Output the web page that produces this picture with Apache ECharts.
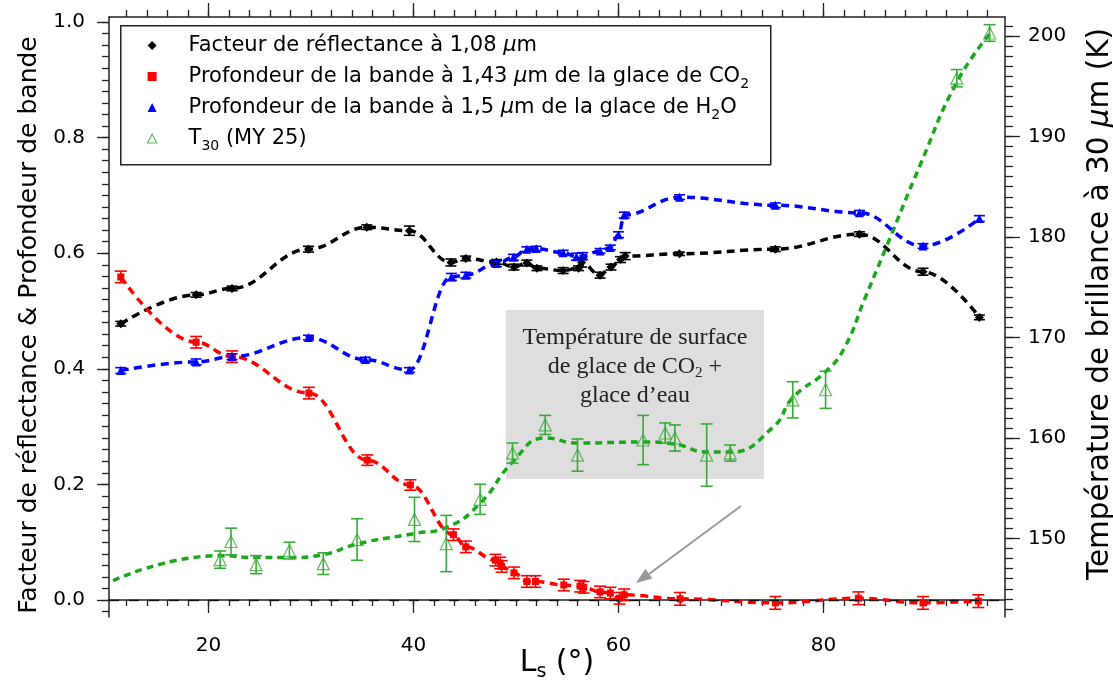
<!DOCTYPE html>
<html><head><meta charset="utf-8">
<script src="https://cdn.jsdelivr.net/npm/echarts@6.0.0/dist/echarts.min.js"></script>
<style>html,body{margin:0;padding:0;background:#fff}#c{width:1113px;height:686px}</style>
</head><body><div id="c"></div>
<script>
// ---------------- data ----------------
const LS_R = [11.45, 18.8, 22.3, 29.76, 35.45, 39.6, 43.65, 45.1, 48.1, 49.8, 51.06, 52.04, 54.6, 56.1, 56.4, 58.2, 59.26, 60.2, 60.65, 65.95, 75.3, 83.5, 89.7, 95.2];
const R108 = [0.478, 0.528, 0.539, 0.607, 0.645, 0.639, 0.584, 0.591, 0.585, 0.576, 0.583, 0.574, 0.570, 0.574, 0.584, 0.562, 0.576, 0.589, 0.595, 0.599, 0.607, 0.633, 0.568, 0.489];
const R108_ERR = [0.004, 0.004, 0.004, 0.005, 0.004, 0.008, 0.006, 0.004, 0.004, 0.005, 0.005, 0.004, 0.005, 0.004, 0.008, 0.005, 0.005, 0.005, 0.006, 0.003, 0.004, 0.004, 0.006, 0.004];

const LS_C = [11.45, 18.8, 22.3, 29.8, 35.5, 39.7, 43.9, 45.1, 48.0, 48.46, 48.6, 49.8, 51.06, 51.9, 54.66, 56.26, 56.6, 58.2, 59.2, 60.1, 60.55, 66.0, 75.3, 83.4, 89.7, 95.1];
const CO2 = [0.559, 0.446, 0.421, 0.358, 0.242, 0.199, 0.113, 0.092, 0.069, 0.064, 0.058, 0.047, 0.032, 0.032, 0.026, 0.024, 0.022, 0.014, 0.012, 0.003, 0.009, 0.002, -0.005, 0.003, -0.005, -0.002];
const CO2_ERR = [0.010, 0.010, 0.010, 0.010, 0.009, 0.009, 0.010, 0.010, 0.010, 0.010, 0.010, 0.010, 0.010, 0.010, 0.010, 0.010, 0.010, 0.010, 0.010, 0.010, 0.010, 0.011, 0.011, 0.011, 0.011, 0.011];

const LS_H = [11.45, 18.8, 22.3, 29.76, 35.3, 39.6, 43.7, 45.1, 48.1, 49.75, 51.06, 51.97, 54.6, 55.9, 56.5, 58.2, 59.2, 60.0, 60.56, 65.95, 75.3, 83.5, 89.7, 95.2];
const H2O = [0.397, 0.412, 0.421, 0.454, 0.416, 0.398, 0.559, 0.562, 0.582, 0.593, 0.607, 0.608, 0.601, 0.594, 0.595, 0.604, 0.610, 0.632, 0.666, 0.697, 0.683, 0.670, 0.6125, 0.660];
const H2O_ERR = [0.005, 0.005, 0.005, 0.004, 0.004, 0.004, 0.006, 0.005, 0.005, 0.005, 0.004, 0.004, 0.004, 0.006, 0.006, 0.004, 0.004, 0.005, 0.005, 0.004, 0.004, 0.004, 0.004, 0.005];

const LS_T = [21.14, 22.2, 24.65, 27.9, 31.2, 34.5, 40.1, 43.2, 46.5, 49.66, 52.85, 56.0, 62.4, 64.55, 65.5, 68.6, 70.9, 77.0, 80.2, 93.0, 96.2];
const T30 = [147.9, 149.7, 147.4, 148.8, 147.5, 149.9, 151.9, 149.5, 153.9, 158.5, 161.3, 158.3, 159.8, 160.5, 160.0, 158.3, 158.5, 163.8, 164.8, 195.8, 200.3];
const T30_ERR = [0.86, 1.33, 0.9, 0.83, 1.08, 2.07, 2.2, 2.8, 1.5, 1.0, 0.95, 1.6, 2.45, 1.0, 1.3, 3.1, 0.8, 1.8, 1.85, 0.86, 0.83];

const LS_FIT = [10.7, 21.14, 24.65, 27.9, 31.2, 34.5, 40.1, 43.2, 46.5, 49.66, 52.85, 56.0, 62.4, 65.5, 68.6, 70.9, 75.1, 77.0, 80.2, 82.0, 84.0, 86.2, 89.4, 93.0, 96.2];
const T30_FIT = [145.8, 148.3, 148.1, 148.1, 148.4, 149.45, 150.5, 151.1, 153.5, 157.6, 160.0, 159.5, 159.6, 159.4, 158.6, 158.6, 161.1, 164.0, 166.6, 168.9, 173.8, 179.2, 187.1, 195.4, 200.2];

// tick labels
const X_MAJOR = [20, 40, 60, 80];
const Y_MAJOR = [0, 0.2, 0.4, 0.6, 0.8, 1.0];
const T_MAJOR = [150, 160, 170, 180, 190, 200];
const X_MINOR = []; for (let v = 12; v <= 96; v += 2) X_MINOR.push(v);
const Y_MINOR = []; for (let i = -1; i <= 50; i++) Y_MINOR.push(+(i * 0.02).toFixed(2));
const T_MINOR = []; for (let v = 143; v <= 201; v++) T_MINOR.push(v);

const LEGEND_TEXT = {
  R: 'Facteur de réflectance à 1,08 {mu|μ}m',
  C: 'Profondeur de la bande à 1,43 {mu|μ}m de la glace de CO{sub|2}',
  H: 'Profondeur de la bande à 1,5 {mu|μ}m de la glace de H{sub|2}O',
  T: 'T{sub|30} (MY 25)'
};

// ---------------- helpers ----------------
const FONT = "'DejaVu Sans', sans-serif";
const SERIF = "'Liberation Serif', serif";
const zip = (xs, ys) => xs.map((x, i) => [x, ys[i]]);
const errData = (xs, ys, es) => xs.map((x, i) => [x, ys[i] - es[i], ys[i] + es[i]]);
function errRender(capW, color, lw) {
  return function (params, api) {
    const x = api.value(0), lo = api.value(1), hi = api.value(2);
    const p1 = api.coord([x, hi]), p2 = api.coord([x, lo]);
    const st = { stroke: color, lineWidth: lw };
    return { type: 'group', children: [
      { type: 'line', shape: { x1: p1[0], y1: p1[1], x2: p2[0], y2: p2[1] }, style: st },
      { type: 'line', shape: { x1: p1[0] - capW / 2, y1: p1[1], x2: p1[0] + capW / 2, y2: p1[1] }, style: st },
      { type: 'line', shape: { x1: p2[0] - capW / 2, y1: p2[1], x2: p2[0] + capW / 2, y2: p2[1] }, style: st }
    ]};
  };
}
const XMIN = 10.3, XMAX = 97.7, YMIN = -0.0294, YMAX = 1.0087, TMIN = 142.19, TMAX = 201.89;
const AX = '#222';
const mkX = (pos, vals, len, main) => ({
  type: 'value', position: pos, min: XMIN, max: XMAX, splitLine: { show: false },
  axisLine: { show: main, lineStyle: { color: AX, width: 1.5 } },
  axisTick: { show: true, customValues: vals, length: len, lineStyle: { color: AX, width: 1.3 } },
  axisLabel: { show: false }
});
const mkY = (pos, mn, mx, vals, len, main) => ({
  type: 'value', position: pos, min: mn, max: mx, splitLine: { show: false },
  axisLine: { show: main, lineStyle: { color: AX, width: 1.5 } },
  axisTick: { show: true, customValues: vals, length: len, lineStyle: { color: AX, width: 1.3 } },
  axisLabel: { show: false }
});

const xBottom = mkX('bottom', X_MAJOR, 13, true);
xBottom.axisLabel = { show: true, customValues: X_MAJOR, fontSize: 20, margin: 19, color: '#000', fontFamily: FONT };
xBottom.name = '{a|L}{s|s}{a| (°)}';
xBottom.nameLocation = 'middle';
xBottom.nameGap = 27;
xBottom.nameMoveOverlap = false;
xBottom.nameTextStyle = { rich: {
  a: { fontSize: 30, fontFamily: FONT, color: '#000', lineHeight: 38 },
  s: { fontSize: 19, fontFamily: FONT, color: '#000', lineHeight: 19, verticalAlign: 'bottom' } } };

const yLeft = mkY('left', YMIN, YMAX, Y_MAJOR, 12, true);
yLeft.axisLabel = { show: true, customValues: Y_MAJOR, fontSize: 20, margin: 24, color: '#000', fontFamily: FONT,
  formatter: v => v.toFixed(1) };
yLeft.name = 'Facteur de réflectance & Profondeur de bande';
yLeft.nameLocation = 'middle'; yLeft.nameRotate = 90; yLeft.nameGap = 67;
yLeft.nameTextStyle = { fontSize: 25, fontFamily: FONT, color: '#000', padding: [0, 16, 0, 0] };

const yRight = mkY('right', TMIN, TMAX, T_MAJOR, 15, true);
yRight.axisLabel = { show: true, customValues: T_MAJOR, fontSize: 20, margin: 23, color: '#000', fontFamily: FONT };
yRight.name = 'Température de brillance à 30 {mu|μ}m (K)';
yRight.nameLocation = 'middle'; yRight.nameRotate = 90; yRight.nameGap = 80;
yRight.nameTextStyle = { fontSize: 29.5, fontFamily: FONT, color: '#000', padding: [0, 0, 0, 26],
  rich: { mu: { fontSize: 29.5, fontFamily: FONT, fontStyle: 'italic', color: '#000' } } };

const lineSeries = (name, xs, ys, color, sym, size) => ({
  name, type: 'line', xAxisIndex: 0, yAxisIndex: 0, data: zip(xs, ys),
  smooth: 0.4, smoothMonotone: 'x', symbol: sym, symbolSize: size, showSymbol: true,
  itemStyle: { color }, lineStyle: { color, width: 3.5, type: [8, 5.5] }, z: 3
});
const errSeries = (xs, ys, es, color, yIdx, capW) => ({
  type: 'custom', xAxisIndex: 0, yAxisIndex: yIdx, data: errData(xs, ys, es),
  encode: { x: 0, y: [1, 2] }, renderItem: errRender(capW, color, 1.6), z: 4, silent: true
});

const GREEN_LINE = '#1aa81a', GREEN_PT = '#36ab36';
const option = {
  animation: false,
  backgroundColor: '#fff',
  grid: { left: 109, right: 108, top: 17, bottom: 69, containLabel: false, outerBoundsMode: 'none' },
  xAxis: [xBottom, mkX('bottom', X_MINOR, 6, false), mkX('top', X_MAJOR, 14, true), mkX('top', X_MINOR, 7, false)],
  yAxis: [yLeft, mkY('left', YMIN, YMAX, Y_MINOR, 7, false), yRight, mkY('right', TMIN, TMAX, T_MINOR, 8, false)],
  legend: {
    left: 147, top: 31, orient: 'vertical', padding: 0, itemGap: 2, itemWidth: 9, itemHeight: 9,
    selectedMode: false,
    data: [{ name: 'R', icon: 'diamond' }, { name: 'C', icon: 'rect' }, { name: 'H', icon: 'triangle' },
           { name: 'T', icon: 'triangle', itemStyle: { color: '#fff', borderColor: GREEN_PT, borderWidth: 1.2 } }],
    formatter: n => LEGEND_TEXT[n],
    textStyle: { fontSize: 21, fontFamily: FONT, color: '#000', lineHeight: 29, padding: [0, 0, 0, 27],
      rich: {
        mu: { fontSize: 21, fontFamily: FONT, fontStyle: 'italic', color: '#000', lineHeight: 29 },
        sub: { fontSize: 14, fontFamily: FONT, color: '#000', lineHeight: 14, verticalAlign: 'bottom' }
      } }
  },
  graphic: [
    { type: 'rect', left: 120, top: 25, shape: { width: 650, height: 139 }, style: { fill: '#fff', stroke: '#222', lineWidth: 1.5 }, z: 1 },
    { type: 'rect', left: 506, top: 310, shape: { width: 258, height: 169 }, style: { fill: '#dedede' }, z: 0 },
    { type: 'text', x: 635, y: 323, z: 1, style: {
        text: 'Température de surface\nde glace de CO{sub|2} +\nglace d’eau',
        fill: '#222', font: "24px 'Liberation Serif', serif", align: 'center', verticalAlign: 'top', lineHeight: 29,
        rich: { sub: { fontSize: 15, fontFamily: SERIF, lineHeight: 15, verticalAlign: 'bottom', fill: '#222' } } } },
    { type: 'line', shape: { x1: 741, y1: 506, x2: 649, y2: 574 }, style: { stroke: '#9a9a9a', lineWidth: 2 }, z: 1 },
    { type: 'polygon', shape: { points: [[636, 583], [652.4, 578.4], [645.4, 568.8]] }, style: { fill: '#9a9a9a' }, z: 1 }
  ],
  series: [
    Object.assign(lineSeries('R', LS_R, R108, '#000', 'diamond', 9), {
      markLine: { silent: true, symbol: 'none', label: { show: false },
        lineStyle: { color: '#111', width: 1.4, type: [10, 10] }, data: [{ yAxis: 0 }] } }),
    lineSeries('C', LS_C, CO2, '#ff0000', 'rect', 7),
    lineSeries('H', LS_H, H2O, '#0000ff', 'triangle', 9),
    errSeries(LS_R, R108, R108_ERR, '#000', 0, 11),
    errSeries(LS_C, CO2, CO2_ERR, '#ff0000', 0, 12),
    errSeries(LS_H, H2O, H2O_ERR, '#0000ff', 0, 11),
    { name: 'TFIT', type: 'line', xAxisIndex: 0, yAxisIndex: 2, data: zip(LS_FIT, T30_FIT), smooth: 0.5,
      symbol: 'none', lineStyle: { color: GREEN_LINE, width: 3.5, type: [7, 5] }, z: 2 },
    { name: 'T', type: 'scatter', xAxisIndex: 0, yAxisIndex: 2, data: zip(LS_T, T30), symbol: 'triangle', symbolSize: 12,
      itemStyle: { color: 'rgba(0,0,0,0)', borderColor: GREEN_PT, borderWidth: 1.2 }, z: 3 },
    errSeries(LS_T, T30, T30_ERR, GREEN_PT, 2, 12)
  ]
};
const chart = echarts.init(document.getElementById('c'), null, { renderer: 'canvas' });
chart.setOption(option);
</script></body></html>
